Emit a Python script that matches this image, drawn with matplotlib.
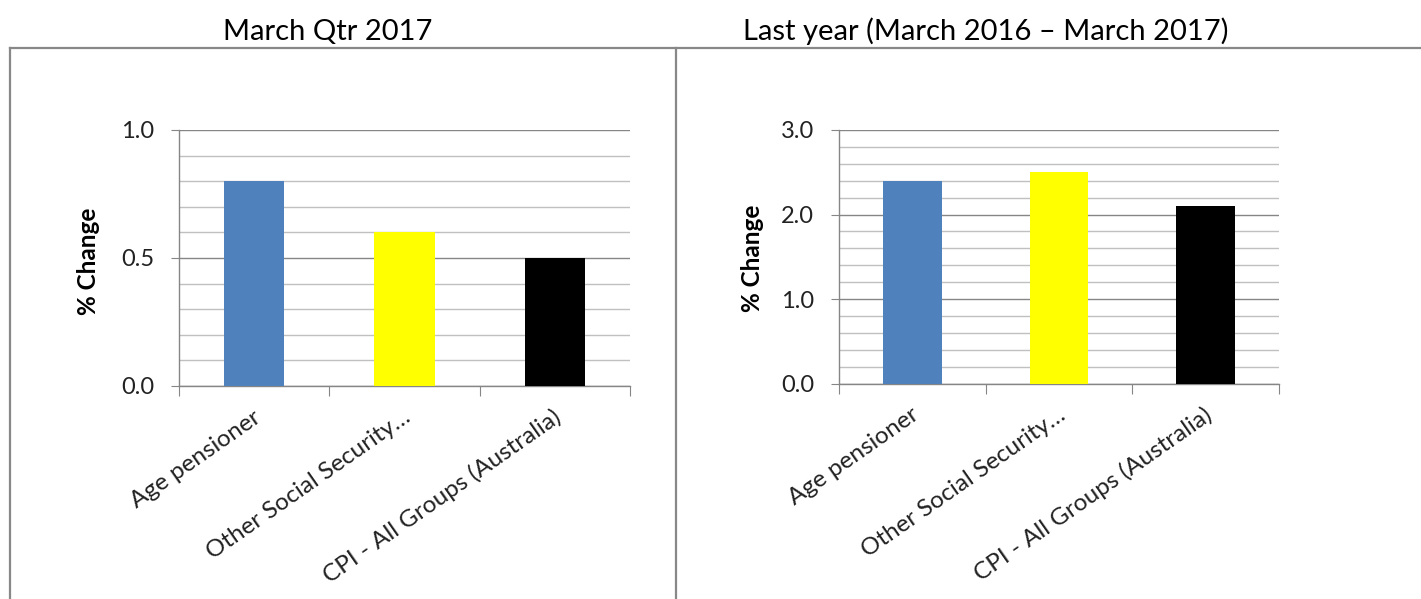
import matplotlib
matplotlib.use("Agg")
import matplotlib.pyplot as plt
from matplotlib.ticker import MultipleLocator
from matplotlib.lines import Line2D

plt.rcParams['font.family'] = ['Lato', 'DejaVu Sans']

# ---- data ----
categories = ["Age pensioner", "Other Social Security\u2026", "CPI - All Groups (Australia)"]
qtr_values = [0.8, 0.6, 0.5]
year_values = [2.4, 2.5, 2.1]
bar_colors = ["#4F81BD", "#FFFF00", "#000000"]
titles = ["March Qtr 2017", "Last year (March 2016 \u2013 March 2017)"]
ylabel = "% Change"

W, H = 1421, 599
fig = plt.figure(figsize=(W / 100, H / 100), dpi=100)
fig.patch.set_facecolor("white")

def fx(px):
    return px / W

def fy(py):
    return 1 - py / H

major_col = "#868686"
minor_col = "#C0C0C0"

def make_panel(rect, values, ymax, major_step, minor_step, ylabel_pos, title_pos, title):
    ax = fig.add_axes(rect)
    x = list(range(len(values)))
    ax.bar(x, values, width=0.4, color=bar_colors, zorder=3)
    ax.set_xlim(-0.5, len(values) - 0.5)
    ax.set_ylim(0, ymax)
    ax.yaxis.set_major_locator(MultipleLocator(major_step))
    ax.yaxis.set_minor_locator(MultipleLocator(minor_step))
    ax.yaxis.set_major_formatter(matplotlib.ticker.FormatStrFormatter("%.1f"))
    ax.grid(which="major", axis="y", color=major_col, lw=1.0, zorder=1)
    ax.grid(which="minor", axis="y", color=minor_col, lw=1.0, zorder=0)
    ax.set_axisbelow(True)
    for s in ("top", "right"):
        ax.spines[s].set_visible(False)
    for s in ("left", "bottom"):
        ax.spines[s].set_color(major_col)
        ax.spines[s].set_linewidth(1.0)
    ax.tick_params(axis="y", which="major", length=6, color=major_col, pad=12,
                   labelsize=17, labelcolor="#222222")
    ax.tick_params(axis="y", which="minor", length=0)
    ax.set_xticks([i - 0.5 for i in range(len(values) + 1)])
    ax.set_xticklabels([])
    ax.tick_params(axis="x", which="major", length=7, color=major_col)
    for i, lab in enumerate(categories):
        ax.annotate(lab, xy=(i, 0), xycoords=("data", "axes fraction"),
                    xytext=(3, -21), textcoords="offset points",
                    rotation=35, ha="right", va="center", rotation_mode="anchor",
                    fontsize=17.5, color="#222222", annotation_clip=False)
    fig.text(fx(ylabel_pos[0]), fy(ylabel_pos[1]), ylabel, rotation=90,
             ha="center", va="center", fontsize=17.5, fontweight="bold")
    fig.text(fx(title_pos[0]), fy(title_pos[1]), title, ha="center", va="baseline",
             fontsize=21, color="black")
    return ax

make_panel([fx(179), fy(386), fx(630) - fx(179), fy(130) - fy(386)],
           qtr_values, 1.0, 0.5, 0.1, (89, 261), (328, 40), titles[0])
make_panel([fx(839), fy(383.5), fx(1279) - fx(839), fy(130) - fy(383.5)],
           year_values, 3.0, 1.0, 0.2, (752, 258), (986, 40), titles[1])

# panel borders
border = "#888888"
fig.add_artist(Line2D([fx(10), 1.0], [fy(48), fy(48)], transform=fig.transFigure,
                      color=border, lw=1.6))
fig.add_artist(Line2D([fx(10), fx(10)], [fy(48), 0], transform=fig.transFigure,
                      color=border, lw=1.6))
fig.add_artist(Line2D([fx(675.5), fx(675.5)], [fy(48), 0], transform=fig.transFigure,
                      color=border, lw=1.6))

fig.savefig("out.png", dpi=100, facecolor="white")
